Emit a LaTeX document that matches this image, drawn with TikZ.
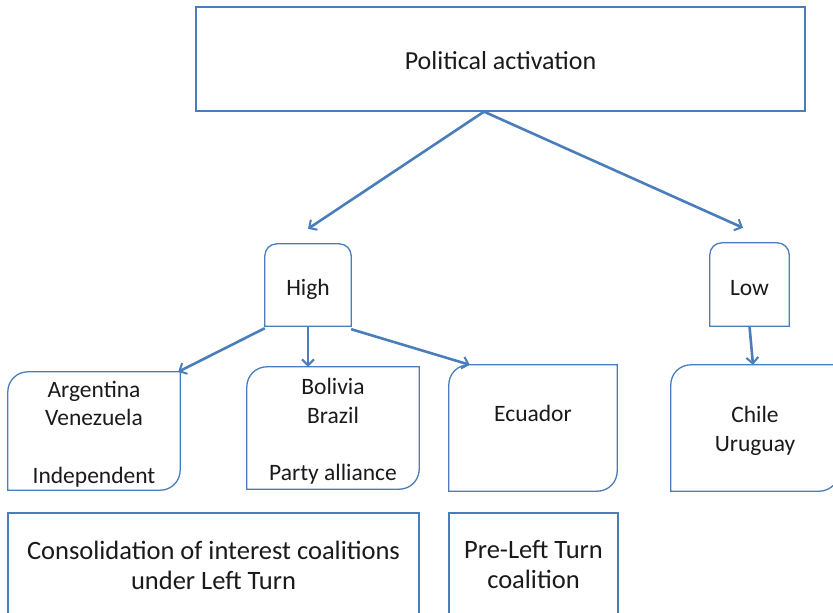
\documentclass[tikz,border=0pt]{standalone}
\usepackage{fontspec}
\setmainfont{Carlito}
\usetikzlibrary{arrows.meta}
\definecolor{lineblue}{HTML}{4A7EBB}
\definecolor{txt}{HTML}{1A1A1A}
\tikzset{
  boxline/.style={draw=lineblue, line width=1.3pt},
  area/.style={rectangle, inner sep=0pt},
  label text/.style={inner sep=0pt, align=center, text=txt,
    font=\fontsize{23.5}{28.8}\selectfont},
  big text/.style={label text, font=\fontsize{26.5}{30}\selectfont},
  conn/.style={draw=lineblue, line width=2.6pt,
    -{Straight Barb[length=6pt,width=12pt,line width=2pt]}},
}
\newcommand{\diaground}[2]{% node name, radius
  \draw[boxline] (#1.south west) -- ([yshift=-#2]#1.north west)
    arc[start angle=180,end angle=90,radius=#2] -- (#1.north east)
    -- ([yshift=#2]#1.south east)
    arc[start angle=0,end angle=-90,radius=#2] -- cycle;}
\newcommand{\topround}[2]{% node name, radius
  \draw[boxline] (#1.south west) -- ([yshift=-#2]#1.north west)
    arc[start angle=180,end angle=90,radius=#2]
    -- ([xshift=-#2]#1.north east)
    arc[start angle=90,end angle=0,radius=#2] -- (#1.south east) -- cycle;}
\begin{document}
\begin{tikzpicture}[x=1pt,y=1pt]
\useasboundingbox (0,0) rectangle (833,-613);
% top box
\node[area, boxline, minimum width=609, minimum height=104] (top) at (500.5,-59) {};
\node[label text, font=\fontsize{26}{30}\selectfont] (topt) at ([yshift=-2]top.center) {Political activation};
% level 2
\node[area, minimum width=86, minimum height=82] (high) at (308,-285) {};
\topround{high}{12}
\node[label text] (hight) at ([yshift=-4.5]high.center) {High};
\node[area, minimum width=79, minimum height=83] (low) at (749.5,-284.5) {};
\topround{low}{12}
\node[label text] (lowt) at ([yshift=-4]low.center) {Low};
% level 3
\node[area, minimum width=172, minimum height=118] (arg) at (94,-431) {};
\diaground{arg}{20}
\node[label text] (argt) at ([yshift=-3]arg.center)
  {Argentina\\Venezuela\\[28.8pt]Independent};
\node[area, minimum width=172, minimum height=122] (bol) at (333,-428) {};
\diaground{bol}{20}
\node[label text] (bolt) at ([yshift=-3.5]bol.center)
  {Bolivia\\Brazil\\[28.8pt]Party alliance};
\node[area, minimum width=168, minimum height=126] (ecu) at (533,-428) {};
\diaground{ecu}{20}
\node[label text] (ecut) at ([yshift=-4.5]ecu.center) {Ecuador\\\strut};
\node[area, minimum width=168, minimum height=126] (chi) at (755,-428) {};
\diaground{chi}{20}
\node[label text] (chit) at ([yshift=-3]chi.center) {Chile\\Uruguay};
% level 4
\node[area, boxline, minimum width=411, minimum height=104] (cons) at (213.5,-565) {};
\node[big text] (const) at (cons.center)
  {Consolidation of interest coalitions\\under Left Turn};
\node[area, boxline, minimum width=169, minimum height=104] (pre) at (533.5,-565) {};
\node[big text] (pret) at (pre.center) {Pre-Left Turn\\coalition};
% connector ends
\coordinate (ts) at ([xshift=-16.5]top.south);
\coordinate (hin) at ([yshift=15]high.north);
\coordinate (lin) at ([xshift=-6.5,yshift=15]low.north);
\coordinate (argin) at ([xshift=-2]arg.north east);
\coordinate (bolin) at ([xshift=-25]bol.north);
\coordinate (ecuin) at ([xshift=21]ecu.north west);
\coordinate (chiin) at ([xshift=-2]chi.north);
\coordinate (hsw) at ([yshift=-2]high.south west);
\coordinate (hse) at ([yshift=-3]high.south east);
\draw[conn] (ts) -- (hin);
\draw[conn] (ts) -- (lin);
\draw[conn] (hsw) -- (argin);
\draw[conn] (high.south) -- (bolin);
\draw[conn] (hse) -- (ecuin);
\draw[conn] (low.south) -- (chiin);
\end{tikzpicture}
\end{document}
